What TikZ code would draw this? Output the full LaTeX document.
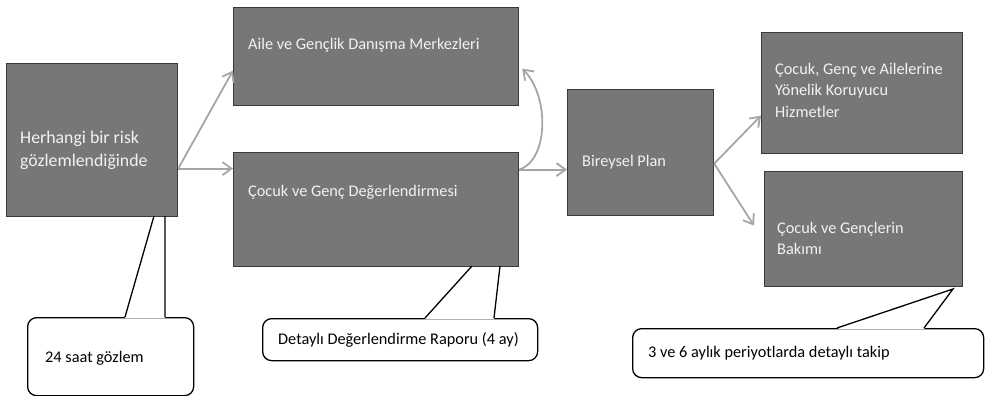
\documentclass[tikz,border=0pt]{standalone}
\usepackage{fontspec}
\setmainfont{Carlito}
\usetikzlibrary{arrows.meta,calc}
\definecolor{boxgray}{HTML}{777777}
\definecolor{boxline}{HTML}{3A3A3A}
\definecolor{arrowgray}{HTML}{A6A6A6}
\definecolor{boxtext}{HTML}{F2F2F2}

\tikzset{
  stepbox/.style={draw=boxline, fill=boxgray, line width=1.2pt, anchor=north west, inner sep=0pt},
  boxlabel/.style={text=boxtext, anchor=west, align=left, inner sep=0pt, font=\fontsize{16.3}{21.5}\selectfont},
  bubble/.style={draw=black, fill=white, line width=1.3pt, rounded corners=9pt, anchor=north west, inner sep=0pt},
  bubblelabel/.style={anchor=west, inner sep=0pt, font=\fontsize{16.3}{20}\selectfont},
  flow/.style={draw=arrowgray, line width=1.8pt, -{Straight Barb[length=9pt,width=13pt]}},
  tail/.style={draw=black, line width=1.3pt, line join=miter}
}

\begin{document}
\begin{tikzpicture}[x=1pt,y=-1pt]
\useasboundingbox (0,0) rectangle (988,396);

\node[stepbox, minimum width=171, minimum height=153] (risk) at (6,63) {};
\node[stepbox, minimum width=285, minimum height=98] (aile) at (233,7) {};
\node[stepbox, minimum width=285, minimum height=114] (eval) at (233,152) {};
\node[stepbox, minimum width=146, minimum height=126] (plan) at (567,89) {};
\node[stepbox, minimum width=201, minimum height=121] (koru) at (761,32) {};
\node[stepbox, minimum width=198, minimum height=115] (bakim) at (764,171) {};

\node[boxlabel, font=\fontsize{17.8}{22.5}\selectfont] (riskt) at (20,150.5) {Herhangi bir risk\\gözlemlendiğinde};
\node[boxlabel] (ailet) at (248,45) {Aile ve Gençlik Danışma Merkezleri};
\node[boxlabel] (evalt) at (248,192) {Çocuk ve Genç Değerlendirmesi};
\node[boxlabel] (plant) at (582,162) {Bireysel Plan};
\node[boxlabel] (korut) at (775,90) {Çocuk, Genç ve Ailelerine\\Yönelik Koruyucu\\Hizmetler};
\node[boxlabel] (bakimt) at (777,238.5) {Çocuk ve Gençlerin\\Bakımı};

\coordinate (riskout) at ([yshift=-28.5pt]risk.east);
\coordinate (evalout) at ([yshift=40pt]eval.east);
\coordinate (planout) at ([yshift=-11pt]plan.east);
\draw[flow] (riskout) -- ([yshift=-14pt]aile.west);
\draw[flow] (riskout) -- (riskout -| eval.west);
\draw[flow] (evalout) -- (evalout -| plan.west);
\draw[flow] (evalout) .. controls +(30,-10) and +(27,27) .. ([xshift=3pt,yshift=-12pt]aile.east);
\draw[flow] (planout) -- ([yshift=-22.5pt]koru.west);
\draw[flow] (planout) -- ([xshift=-10pt,yshift=3.5pt]bakim.west);

\node[bubble, minimum width=166, minimum height=78] (gozlem) at (27,317) {};
\node[bubble, minimum width=275, minimum height=42] (rapor) at (262,318) {};
\node[bubble, minimum width=351, minimum height=49] (takip) at (632,328) {};

\fill[white] (125,318) -- (154,217) -- (165,217) -- (165,318) -- cycle;
\draw[tail] (125,317) -- (154,216) (165,216) -- (165,317);
\fill[white] (425,319) -- (472,267) -- (500,267) -- (494,319) -- cycle;
\draw[tail] (425,318) -- (472,266) (500,266) -- (494,318);
\fill[white] (837,329) -- (953,289) -- (924,329) -- cycle;
\draw[tail] (837,328) -- (953,289) -- (924,328);

\node[bubblelabel] (gozlemt) at (45,358) {24 saat gözlem};
\node[bubblelabel] (raport) at (278,340) {Detaylı Değerlendirme Raporu (4 ay)};
\node[bubblelabel] (takipt) at (648,353) {3 ve 6 aylık periyotlarda detaylı takip};
\end{tikzpicture}
\end{document}
